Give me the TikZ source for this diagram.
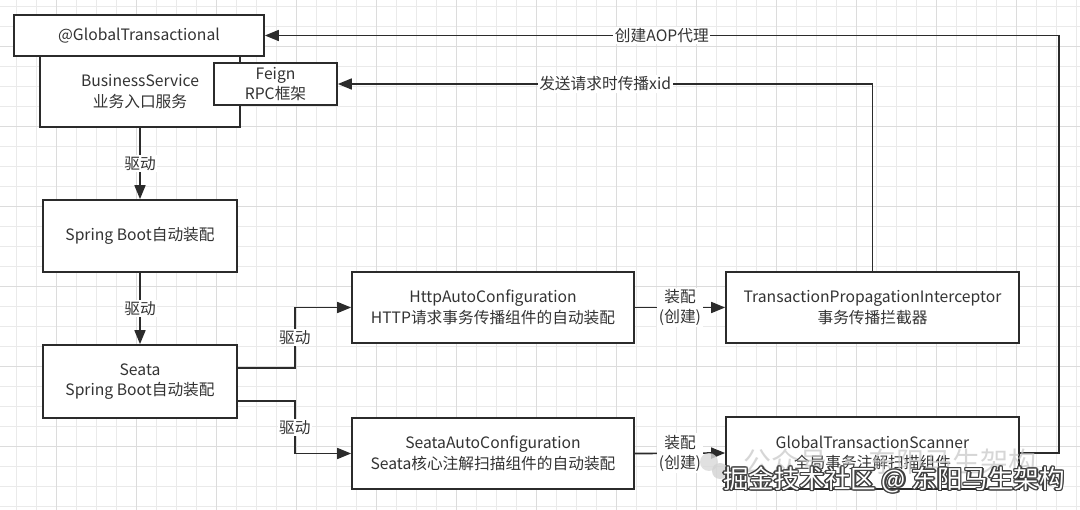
\documentclass[tikz,border=0pt]{standalone}
\usepackage{fontspec}
\setmainfont{Noto Sans CJK SC}
\usetikzlibrary{arrows.meta}
\definecolor{lc}{HTML}{2B2B2B}
\definecolor{tc}{HTML}{333333}
\definecolor{gridminor}{HTML}{EAEAEA}
\definecolor{gridmajor}{HTML}{DCDCDC}
\newcommand{\mainfs}{\fontsize{15.7}{20.5}\selectfont}
\begin{document}
\begin{tikzpicture}[x=1pt,y=-1pt,
  box/.style={draw=lc, line width=1.7pt, fill=white, align=center, text=tc,
    inner sep=0pt, font=\mainfs},
  arr/.style={draw=lc, line width=1.7pt, -{Triangle[length=14pt,width=11pt]}},
  lbl/.style={fill=white, text=tc, font=\mainfs, align=center, inner sep=1.5pt}]
\useasboundingbox (0,0) rectangle (1080,510);
\fill[white] (0,0) rectangle (1080,510);
% grid
\foreach \gx in {0,...,53} {\draw[gridminor, line width=1pt] (16.7+\gx*20,0) -- (16.7+\gx*20,510);}
\foreach \gy in {0,...,25} {\draw[gridminor, line width=1pt] (0,6.7+\gy*20) -- (1080,6.7+\gy*20);}
\foreach \gx in {0,...,13} {\draw[gridmajor, line width=1pt] (56.7+\gx*80,0) -- (56.7+\gx*80,510);}
\foreach \gy in {0,...,6} {\draw[gridmajor, line width=1pt] (0,46.7+\gy*80) -- (1080,46.7+\gy*80);}

% boxes
\node[box, minimum width=200pt, minimum height=71pt] (bs) at (140,91.5) {BusinessService\\业务入口服务};
\node[box, minimum width=250pt, minimum height=41pt] (g) at (139,35.5) {@GlobalTransactional};
\node[box, minimum width=123pt, minimum height=42pt] (feign) at (275.5,84) {Feign\\RPC框架};
\node[box, minimum width=194pt, minimum height=72pt] (sb) at (140,236) {Spring Boot自动装配};
\node[box, minimum width=194pt, minimum height=73pt] (seata) at (140,381.5) {Seata\\Spring Boot自动装配};
\node[box, minimum width=282pt, minimum height=71pt] (http) at (493,307.5) {HttpAutoConfiguration\\HTTP请求事务传播组件的自动装配};
\node[box, minimum width=282pt, minimum height=71pt] (sac) at (493,453.5) {SeataAutoConfiguration\\Seata核心注解扫描组件的自动装配};
\node[box, minimum width=293pt, minimum height=71pt] (tpi) at (872.5,307.5) {TransactionPropagationInterceptor\\事务传播拦截器};
\node[box, minimum width=293pt, minimum height=72pt] (gts) at (872.5,453) {GlobalTransactionScanner\\全局事务注解扫描组件};

% connectors
\draw[arr] (bs.south) -- node[lbl]{驱动} (sb.north);
\draw[arr] (sb.south) -- node[lbl]{驱动} (seata.north);
\draw[arr] ([yshift=13.5pt]seata.east) -- ++(57,0) |- node[lbl,pos=0.25]{驱动} (http.west);
\draw[arr] ([yshift=-19.5pt]seata.east) -- ++(57,0) |- node[lbl,pos=0.25]{驱动} (sac.west);
\draw[arr] (http.east) -- node[lbl]{装配\\(创建)} (tpi.west);
\draw[arr] (sac.east) -- node[lbl]{装配\\(创建)} (gts.west);
\draw[arr] (gts.east) -- ++(39,0) |- node[lbl,pos=0.75]{创建AOP代理} (g.east);
\draw[arr] (tpi.north) |- node[lbl,pos=0.75]{发送请求时传播xid} (feign.east);

% watermark
\fill[gray!30, opacity=0.8] (709,462) circle (9pt);
\fill[gray!35, opacity=0.8] (720,471) circle (8pt);
\node[text=gray!45, opacity=0.7, font=\fontsize{28}{30}\selectfont] (wmg) at (890,462) {公众号 · 东阳马生架构};
\coordinate (wm) at (894,480);
\foreach \a in {0,30,...,330} {
  \node[text=black!75, font=\fontsize{25.5}{27}\selectfont] at ([shift={(\a:1.3pt)}]wm) {掘金技术社区 @ 东阳马生架构};
}
\node[text=white, font=\fontsize{25.5}{27}\selectfont] (wmt) at (wm) {掘金技术社区 @ 东阳马生架构};
\end{tikzpicture}
\end{document}
